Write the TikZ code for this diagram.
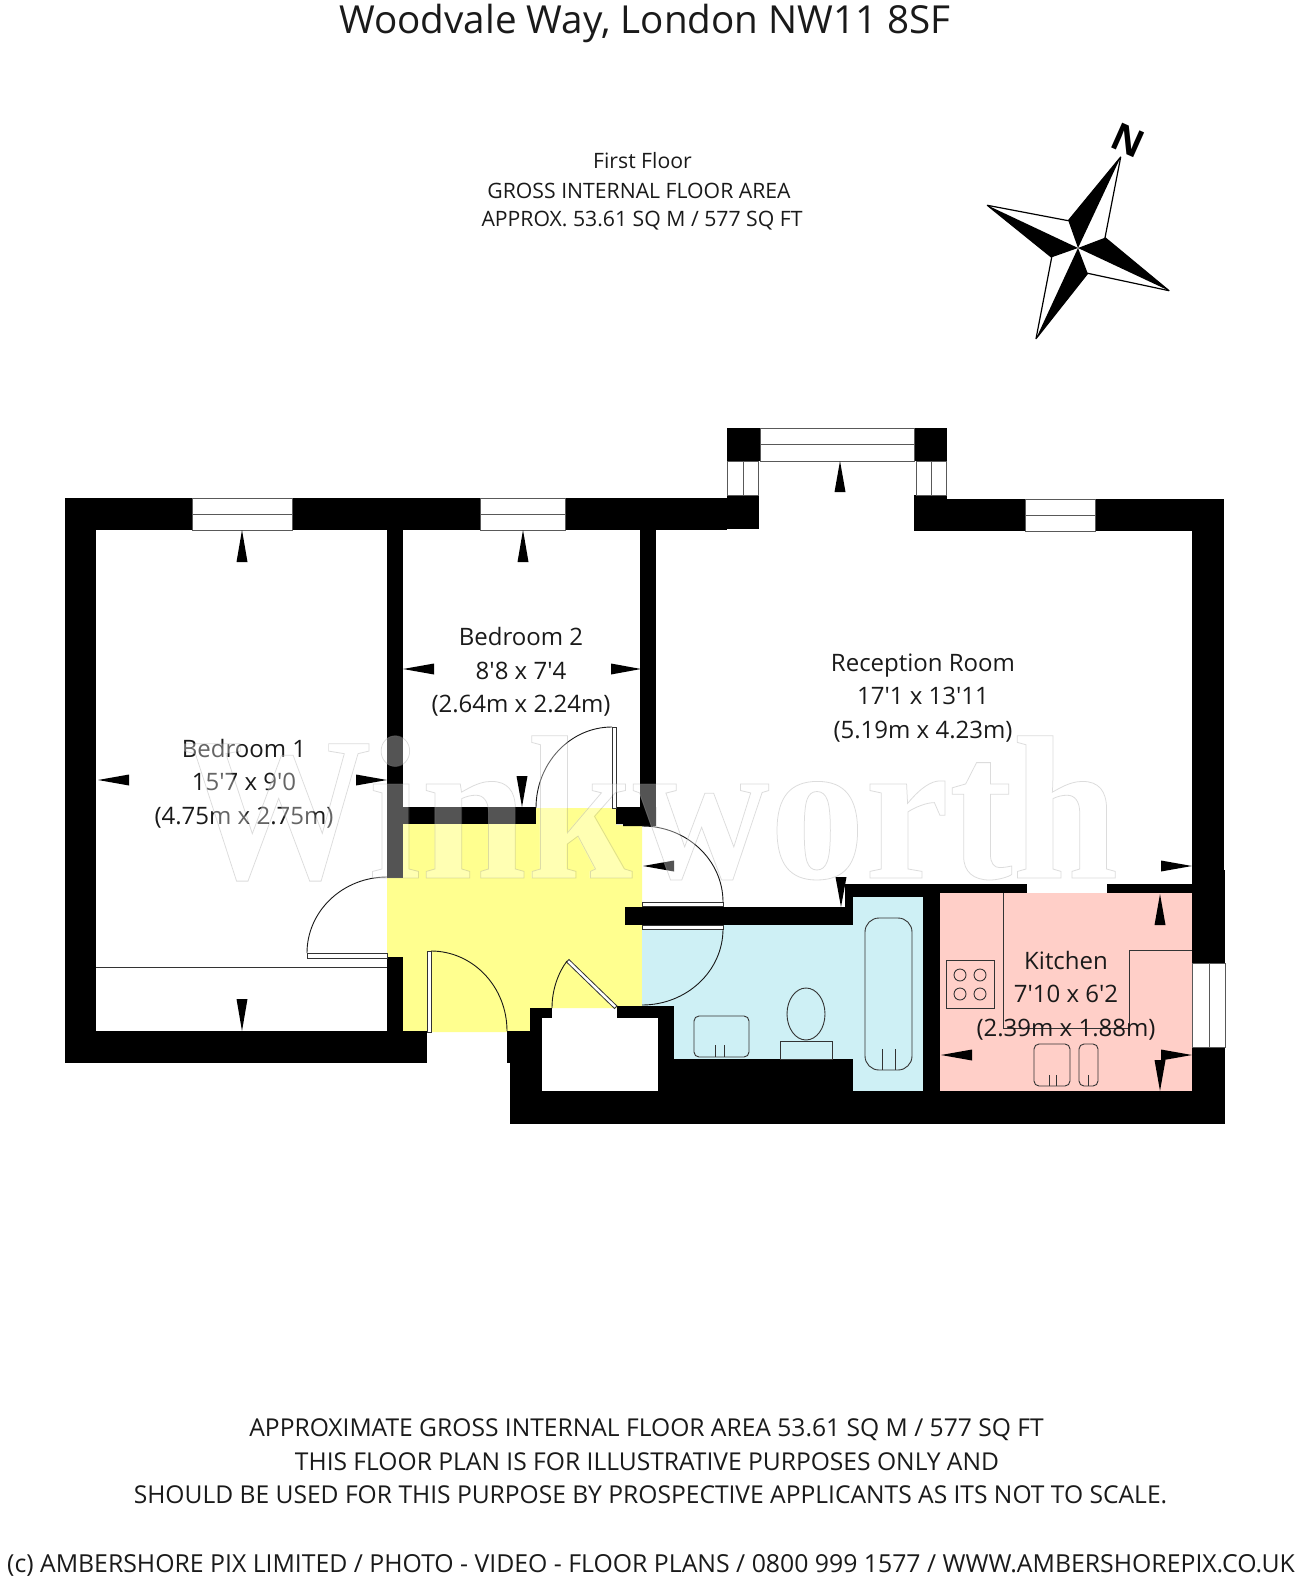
\documentclass[tikz,border=0pt]{standalone}
\usepackage{fontspec}
\newfontfamily\op{Open Sans}
\setmainfont{Open Sans}
\newfontfamily\wmfont{Liberation Serif}[BoldFont={Liberation Serif Bold}]
\definecolor{hall}{HTML}{FFFF8F}
\definecolor{bathc}{HTML}{CEF0F5}
\definecolor{kitc}{HTML}{FFCFC8}
\definecolor{ink}{HTML}{1A1A1A}
\tikzset{
 win/.style={fill=white,draw=black!65,line width=.9pt},
 fitting/.style={draw=black!80,line width=.9pt},
 leaf/.style={fill=white,draw=black!80,line width=.8pt},
 swing/.style={draw=black!90,line width=.9pt},
 lbl/.style={text=ink,align=center,inner sep=0pt},
 roomlbl/.style={lbl,font=\op\fontsize{24}{33.5}\selectfont},
 infolbl/.style={lbl,font=\op\fontsize{21.2}{29.4}\selectfont},
 footlbl/.style={lbl,font=\op\fontsize{24.6}{33.5}\selectfont},
 wmark/.style={inner sep=0pt,anchor=base,xscale=.927,font=\fontsize{205}{205}\selectfont\wmfont\bfseries},
}
\newcommand\arV[3]{\fill[black] (#1,#2) -- (#1-5.5,#3) -- (#1+5.5,#3) -- cycle;}
\newcommand\arH[3]{\fill[black] (#1,#2) -- (#3,#2-5.5) -- (#3,#2+5.5) -- cycle;}
\newcommand\rc[4]{\fill[black] (#1,#2) rectangle (#3,#4);}
\begin{document}
\begin{tikzpicture}[x=1pt,y=-1pt]
\useasboundingbox (0,0) rectangle (1300,1586);
\fill[white] (0,0) rectangle (1300,1586);
% floors
\fill[hall] (403,824)--(536,824)--(536,808)--(616,808)--(616,825)--(642,826)--(642,1006)--(617,1006)--(617,1008)--(530,1008)--(530,1032)--(403,1032)--(403,957)--(387,957)--(387,878)--(403,878)--cycle;
\fill[bathc] (642,925)--(853,925)--(853,1059)--(674,1059)--(674,1006)--(642,1006)--cycle;
\fill[bathc] (853,897) rectangle (923,1091);
\fill[kitc] (940,893) rectangle (1192,1091);
% walls
\rc{65}{498}{727}{530}
\rc{727}{495}{759}{529}
\rc{65}{498}{96}{1063}
\rc{65}{1031}{427}{1063}
\rc{387}{530}{403}{878}
\rc{387}{957}{403}{1031}
\rc{403}{807}{536}{824}
\fill[black] (616,807)--(656,807)--(656,826)--(623,826)--(623,824)--(616,824)--cycle;
\rc{640}{530}{656}{826}
\rc{727}{428}{760}{461}
\rc{914}{428}{947}{461}
\rc{914}{495}{947}{531}
\rc{914}{499}{1224}{531}
\rc{1192}{499}{1224}{870}
\rc{1192}{870}{1225}{1124}
\rc{510}{1091}{1225}{1124}
\rc{507}{1031}{530}{1063}
\rc{510}{1031}{542}{1091}
\rc{530}{1008}{542}{1091}
\rc{530}{1008}{552}{1018}
\rc{617}{1006}{674}{1018}
\rc{658}{1006}{674}{1091}
\rc{674}{1059}{853}{1091}
\rc{625}{907}{845}{925}
\rc{845}{884}{1027}{893}
\rc{845}{884}{853}{925}
\rc{853}{893}{923}{897}
\rc{923}{884}{940}{1091}
\rc{1107}{884}{1192}{893}
% windows
\draw[win] (192,498) rectangle (292,530) (192,514)--(292,514);
\draw[win] (480,498) rectangle (565,530) (480,514)--(565,514);
\draw[win] (760,428) rectangle (914,461) (760,444)--(914,444);
\draw[win] (727.5,461) rectangle (758,495) (743,461)--(743,495);
\draw[win] (916,461) rectangle (946.5,495) (931,461)--(931,495);
\draw[win] (1025,499) rectangle (1095,531) (1025,515)--(1095,515);
\draw[win] (1192,963) rectangle (1225,1047) (1209,963)--(1209,1047);
% bed 1 fitted line
\draw[fitting] (96,967)--(387,967);
% doors
\draw[leaf] (612,727) rectangle (616,808);
\draw[swing] (536,808) arc[start angle=180,end angle=270,x radius=76,y radius=81];
\draw[leaf] (642,902) rectangle (723,906);
\draw[swing] (642,826) arc[start angle=270,end angle=360,x radius=81,y radius=76];
\draw[leaf] (642,925) rectangle (723,929.5);
\draw[swing] (723,929) arc[start angle=0,end angle=90,x radius=81,y radius=76];
\draw[leaf] (427,951) rectangle (431,1032);
\draw[swing] (431,951) arc[start angle=270,end angle=360,x radius=76,y radius=80];
\draw[leaf] (307,953) rectangle (387,958);
\draw[swing] (307,953) arc[start angle=180,end angle=270,x radius=80,y radius=76];
\draw[leaf] (617,1006)--(569,959.5)--(566.5,962)--(614.5,1008.5)--cycle;
\draw[swing] (552,1008) .. controls (552,990) and (558,973) .. (567,961);
% bathroom fittings
\draw[fitting,rounded corners=14pt] (865,918) rectangle (912,1070);
\draw[fitting] (882,1049)--(882,1070) (895,1049)--(895,1070);
\draw[fitting,rounded corners=5pt] (694,1016) rectangle (749,1057);
\draw[fitting] (715,1045)--(715,1057) (724,1045)--(724,1057);
\draw[fitting] (806,1014) ellipse[x radius=19,y radius=26];
\draw[fitting,fill=bathc] (780,1041) rectangle (832,1059);
% kitchen fittings
\draw[fitting] (1003,893)--(1003,1028)--(1129,1028)--(1129,950)--(1192,950);
\draw[fitting] (946,960) rectangle (994,1008);
\draw[fitting] (960,975) circle[radius=6] (980,975) circle[radius=6] (960,994) circle[radius=6] (980,994) circle[radius=6];
\draw[fitting,rounded corners=5pt] (1034,1044) rectangle (1070,1086);
\draw[fitting] (1049,1075)--(1049,1086) (1056,1075)--(1056,1086);
\draw[fitting,rounded corners=5pt] (1079,1044) rectangle (1098,1086);
\draw[fitting] (1088,1075)--(1088,1086);
% dimension arrows
\arV{840}{461}{492}
\arV{242}{530}{562}
\arV{523}{530}{562}
\arV{522}{807}{776}
\arV{242}{1031}{999}
\arV{841}{907}{877}
\arV{1160}{894}{925}
\arV{1160}{1091}{1060}
\arH{98}{780}{129}
\arH{387}{780}{356}
\arH{403}{669}{434}
\arH{641}{669}{611}
\arH{643}{866}{674}
\arH{1192}{866}{1161}
\arH{941}{1055}{972}
\arH{1192}{1055}{1161}
% compass
\draw[black,fill=white,line width=1.2pt,line join=round] (1120.7,157)--(1105,237.7)--(1169,290.7)--(1087.7,273.3)--(1036,338.7)--(1051.7,257.3)--(987.3,205.3)--(1068.3,220.7)--cycle;
\fill[black] (1078,248)--(1068.3,220.7)--(1120.7,157)--cycle;
\fill[black] (1078,248)--(1105,237.7)--(1169,290.7)--cycle;
\fill[black] (1078,248)--(1087.7,273.3)--(1036,338.7)--cycle;
\fill[black] (1078,248)--(1051.7,257.3)--(987.3,205.3)--cycle;
\node[inner sep=0pt,rotate=-24,font=\op\fontsize{38}{38}\selectfont\bfseries] (north) at (1128,140) {N};
% texts
\node[lbl,font=\op\fontsize{38.6}{42}\selectfont] (title) at (645,23) {Woodvale Way, London NW11 8SF};
\node[infolbl] (info1) at (642.5,161) {First Floor};
\node[infolbl] (info2) at (639,190.5) {GROSS INTERNAL FLOOR AREA};
\node[infolbl] (info3) at (642,221) {APPROX. 53.61 SQ M / 577 SQ FT};
\node[roomlbl] (bed1) at (244,783.5) {Bedroom 1\\15'7 x 9'0\\(4.75m x 2.75m)};
\node[roomlbl] (bed2) at (521,672) {Bedroom 2\\8'8 x 7'4\\(2.64m x 2.24m)};
\node[roomlbl] (recep) at (923,698) {Reception Room\\17'1 x 13'11\\(5.19m x 4.23m)};
\node[roomlbl] (kitch) at (1066,995.5) {Kitchen\\7'10 x 6'2\\(2.39m x 1.88m)};
\node[footlbl] (foot1) at (646.5,1430) {APPROXIMATE GROSS INTERNAL FLOOR AREA 53.61 SQ M / 577 SQ FT};
\node[footlbl] (foot2) at (647,1461.5) {THIS FLOOR PLAN IS FOR ILLUSTRATIVE PURPOSES ONLY AND};
\node[footlbl] (foot3) at (650.5,1495) {SHOULD BE USED FOR THIS PURPOSE BY PROSPECTIVE APPLICANTS AS ITS NOT TO SCALE.};
\node[lbl,font=\op\fontsize{24.8}{30}\selectfont] (copy) at (651,1565) {(c) AMBERSHORE PIX LIMITED / PHOTO - VIDEO - FLOOR PLANS / 0800 999 1577 / WWW.AMBERSHOREPIX.CO.UK};
% watermark
\node[wmark,text=white,text opacity=.33] (wm) at (650,878) {Winkworth};
\node[wmark,text=black!45,text opacity=.3] (wmline) at (650,878) {\special{pdf:code 1 Tr 0.8 w}Winkworth\special{pdf:code 0 Tr}};
\end{tikzpicture}
\end{document}
